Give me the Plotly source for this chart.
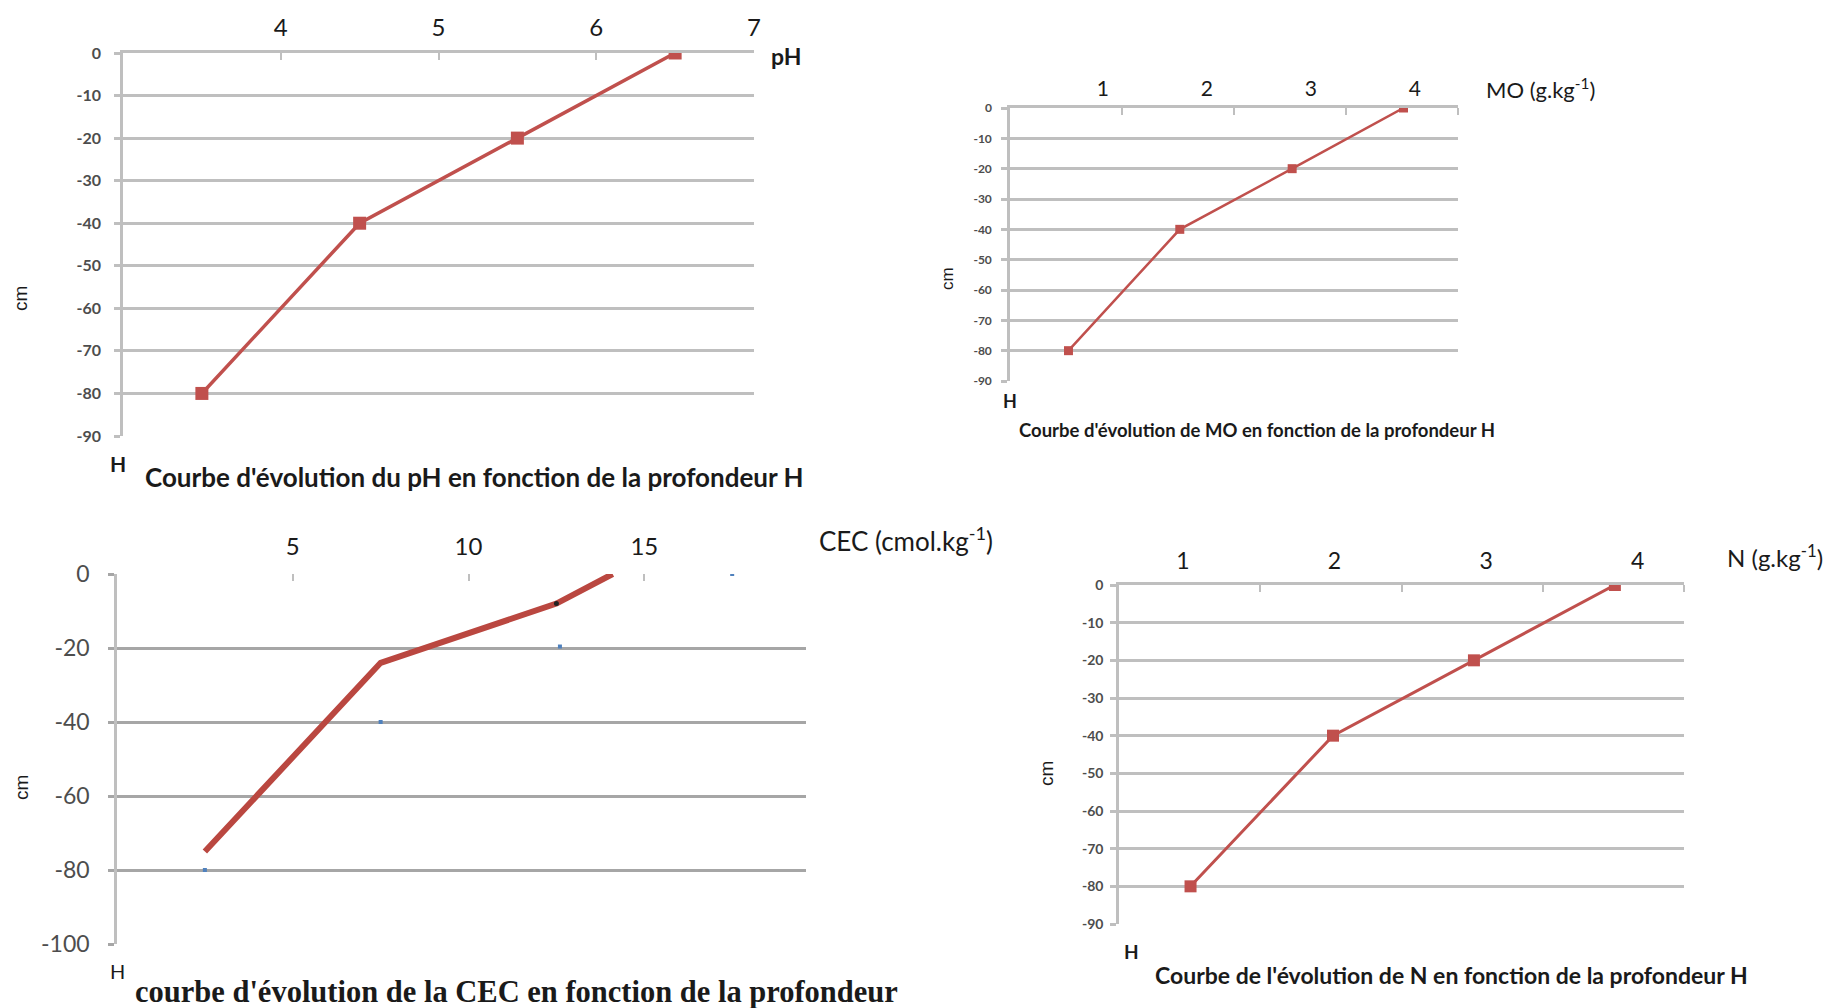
import plotly.graph_objects as go

# the page body keeps the browser's default 8px margin, so the figure is drawn
# 8px smaller and all reference pixel positions are shifted by that margin
OFF = 8
W, H = 1838 - OFF, 1008 - OFF

# ---------------- data ----------------
depth = [-80, -40, -20, 0]                 # cm
ph = [3.5, 4.5, 5.5, 6.5]
mo = [0.67, 1.74, 2.82, 3.89]              # g.kg-1
n_vals = [1.05, 1.99, 2.92, 3.85]          # g.kg-1
cec = [2.5, 7.5, 12.5, 14.1]               # cmol.kg-1
cec_depth = [-75, -24, -8, 0]
cec_marks = [2.5, 7.5, 12.6, 17.5]         # faint blue marks left on the CEC chart
cec_marks_depth = [-80, -40, -19.6, 0]
cec_dot = [12.5]
cec_dot_depth = [-8]

ph_ticks = [4, 5, 6, 7]
mo_ticks = [1, 2, 3, 4]
n_ticks = [1, 2, 3, 4]
cec_ticks = [5, 10, 15]
depth_ticks_90 = [0, -10, -20, -30, -40, -50, -60, -70, -80, -90]
depth_ticks_100 = [0, -20, -40, -60, -80, -100]

RED = "#C0504D"
GRID = "#BFBFBF"
TXT = "#1A1A1A"
TICKTXT = "#4D4D4D"


def px(x):
    return (x - OFF) / W


def py(y):
    return 1 - (y - OFF) / H


def dom_x(x0, x1):
    return [px(x0), px(x1)]


def dom_y(y0, y1):
    return [py(y1), py(y0)]


def labels(vals):
    return [str(v) for v in vals]


fig = go.Figure()

# chart 1 : pH
fig.add_trace(go.Scatter(x=ph, y=depth, mode="lines+markers", xaxis="x", yaxis="y",
                         line=dict(color=RED, width=3.5),
                         marker=dict(symbol="square", size=13, color=RED)))
# chart 2 : MO
fig.add_trace(go.Scatter(x=mo, y=depth, mode="lines+markers", xaxis="x2", yaxis="y2",
                         line=dict(color=RED, width=2.5),
                         marker=dict(symbol="square", size=9, color=RED)))
# chart 3 : CEC
fig.add_trace(go.Scatter(x=cec_marks, y=cec_marks_depth, mode="markers", xaxis="x3", yaxis="y3",
                         marker=dict(symbol="square", size=4, color="#4F81BD")))
fig.add_trace(go.Scatter(x=cec, y=cec_depth, mode="lines", xaxis="x3", yaxis="y3",
                         line=dict(color="#BA4740", width=6)))
fig.add_trace(go.Scatter(x=cec_dot, y=cec_dot_depth, mode="markers", xaxis="x3", yaxis="y3",
                         marker=dict(symbol="circle", size=5, color="#222222")))
# chart 4 : N
fig.add_trace(go.Scatter(x=n_vals, y=depth, mode="lines+markers", xaxis="x4", yaxis="y4",
                         line=dict(color=RED, width=3),
                         marker=dict(symbol="square", size=12, color=RED)))


def xaxis(domain, anchor, rng, tickvals, size, standoff, boundary_ticks=None, ticks="inside"):
    d = dict(domain=domain, anchor=anchor, range=rng, side="top", automargin=False,
             showline=True, linecolor=GRID, linewidth=2.5, mirror=False,
             showgrid=False, zeroline=False, fixedrange=True,
             tickmode="array", tickvals=tickvals, ticktext=labels(tickvals),
             ticks=ticks, ticklen=7, tickwidth=2, tickcolor=GRID,
             ticklabelstandoff=standoff,
             tickfont=dict(family="Lato", size=size, color=TXT))
    if boundary_ticks is not None:
        d["ticks"] = ""
        d["minor"] = dict(tickmode="array", tickvals=boundary_ticks, ticks="inside",
                          ticklen=7, tickwidth=2, tickcolor=GRID, showgrid=False)
    return d


def yaxis(domain, anchor, rng, tickvals, size, standoff, bold=True, gw=2.5, gcolor=GRID,
          family="Lato"):
    return dict(domain=domain, anchor=anchor, range=rng, automargin=False,
                showline=True, linecolor=GRID, linewidth=2.5,
                showgrid=True, gridcolor=gcolor, gridwidth=gw, zeroline=False,
                fixedrange=True,
                tickmode="array", tickvals=tickvals, ticktext=labels(tickvals),
                ticks="outside", ticklen=6, tickwidth=gw, tickcolor=gcolor,
                ticklabelstandoff=standoff,
                tickfont=dict(family=family, size=size, color=TICKTXT,
                              weight="bold" if bold else "normal"))


def quarters(rng):
    return [rng[0] + k * (rng[1] - rng[0]) / 4 for k in range(1, 5)]


r1 = [3, 7]
r2 = [0.108, 4.414]
r3 = [0, 19.6]
r4 = [0.578, 4.306]

fig.update_layout(
    width=W, height=H, margin=dict(l=0, r=0, t=0, b=0, autoexpand=False),
    paper_bgcolor="white", plot_bgcolor="white", showlegend=False,
    xaxis=xaxis(dom_x(123, 754), "y", r1, ph_ticks, 24, 5),
    yaxis=yaxis(dom_y(53, 436), "x", [-90, 0], depth_ticks_90, 16, 10),
    xaxis2=xaxis(dom_x(1010, 1458), "y2", r2, mo_ticks, 21, 1, boundary_ticks=quarters(r2)),
    yaxis2=yaxis(dom_y(108, 381), "x2", [-90, 0], depth_ticks_90, 12, 7),
    xaxis3=dict(xaxis(dom_x(117, 806), "y3", r3, cec_ticks, 24, 13), showline=False),
    yaxis3=yaxis(dom_y(574, 944), "x3", [-100, 0], depth_ticks_100, 23, 14, bold=False,
                 gw=3, gcolor="#A6A6A6"),
    xaxis4=xaxis(dom_x(1119, 1684), "y4", r4, n_ticks, 23, 4, boundary_ticks=quarters(r4)),
    yaxis4=yaxis(dom_y(585, 924), "x4", [-90, 0], depth_ticks_90, 14, 4),
)


def note(text, x, y, size, bold=False, family="Lato", angle=0, color=TXT, xanchor="center"):
    fig.add_annotation(text=text, x=px(x), y=py(y), xref="paper", yref="paper",
                       showarrow=False, xanchor=xanchor, yanchor="middle", textangle=angle,
                       font=dict(family=family, size=size, color=color,
                                 weight="bold" if bold else "normal"))


# chart 1
note("cm", 21, 299, 19, family="Liberation Sans", angle=-90)
note("H", 118, 464, 21, bold=True)
note("Courbe d'évolution du pH en fonction de la profondeur H", 475, 477, 26, bold=True)
note("pH", 786, 56, 23, bold=True)
# chart 2
note("cm", 947, 278, 17, family="Liberation Sans", angle=-90)
note("H", 1010, 401, 18, bold=True)
note("Courbe d'évolution de MO en fonction de la profondeur H", 1257, 430, 18.5, bold=True)
note("MO (g.kg<sup>-1</sup>)", 1484, 89, 22, xanchor="left")
# chart 3
note("cm", 21, 788, 19, family="Liberation Sans", angle=-90)
note("H", 117, 971, 20)
note("courbe d'évolution de la CEC en fonction de la profondeur", 516, 992, 30.5, bold=True,
     family="Liberation Serif")
note("CEC (cmol.kg<sup>-1</sup>)", 817, 539, 26, xanchor="left")
# chart 4
note("cm", 1046, 774, 19, family="Liberation Sans", angle=-90)
note("H", 1131, 951, 19, bold=True)
note("Courbe de l'évolution de N en fonction de la profondeur H", 1451, 975, 23, bold=True)
note("N (g.kg<sup>-1</sup>)", 1725, 556, 24, xanchor="left")

fig.write_html("out.html")
